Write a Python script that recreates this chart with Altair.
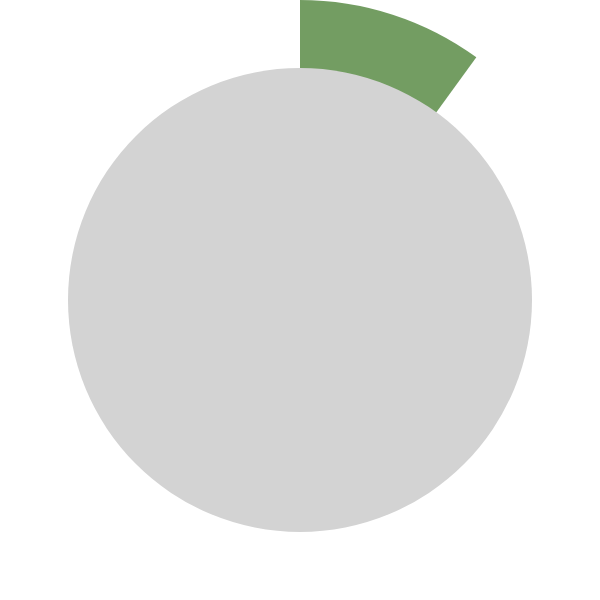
import altair as alt
import pandas as pd

labels = ["Progress", "Total"]
values = [10, 100]

df = pd.DataFrame({"label": labels, "value": values})

theta_scale = alt.Scale(domain=[0, 100], range=[0, 6.283185307179586])

green = alt.Chart(df).transform_filter(alt.datum.label == "Progress").mark_arc(
    radius=300, radius2=0, color="#739d62"
).encode(theta=alt.Theta("value:Q", scale=theta_scale, stack=False))

grey = alt.Chart(df).transform_filter(alt.datum.label == "Total").mark_arc(
    radius=232, color="#d3d3d3"
).encode(theta=alt.Theta("value:Q", scale=theta_scale, stack=False))

chart = alt.layer(green, grey).properties(
    width=600, height=600, padding=0, autosize=alt.AutoSizeParams(type="none")
).configure_view(stroke=None)

chart.save("out.html", embed_options={"renderer": "svg", "actions": False})
